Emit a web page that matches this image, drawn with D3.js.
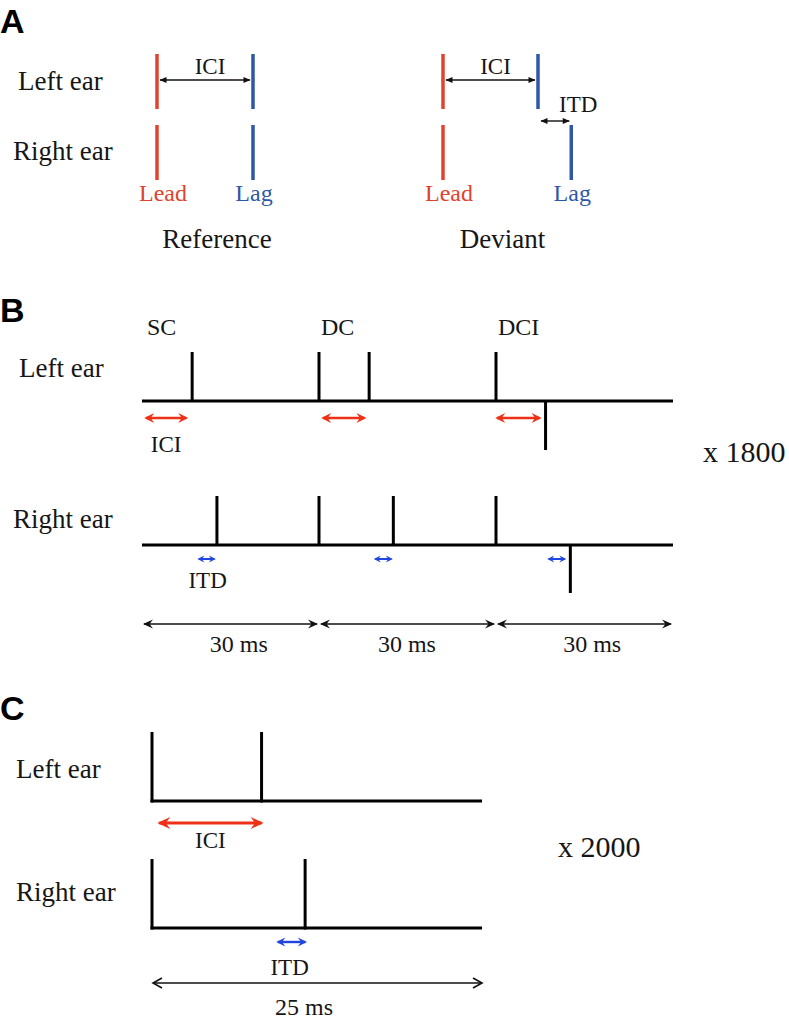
<!DOCTYPE html>
<html><head><meta charset="utf-8">
<script src="https://cdn.jsdelivr.net/npm/d3@7"></script>
<style>
body{margin:0;background:#fff}
text{font-family:"Liberation Serif","Times New Roman",serif;fill:#161616}
.plabel{font-family:"Liberation Sans",Arial,sans-serif;font-weight:bold;fill:#000}
</style>
</head><body>
<svg id="c" width="789" height="1022"></svg>
<script>
// ---------------- DATA ----------------
// Panel A: times in units of ICI
const earLabels = ["Left ear", "Right ear"];
const aRefLead = [0, 0];          // lead time per ear (left, right)
const aRefLag = [1, 1];           // lag time per ear
const aDevLead = [0, 0];
const aDevLag = [1, 1.35];        // right-ear lag delayed by ITD
const aTitles = ["Reference", "Deviant"];

// Panel B: times in ms, polarity +1 up / -1 down
const bSegmentNames = ["SC", "DC", "DCI"];
const bSegmentStarts = [0, 30, 60];
const bSegmentLength = 30;
const bLeftTimes = [8.5, 30, 38.5, 60, 68.4];
const bLeftPolarity = [1, 1, 1, 1, -1];
const bRightTimes = [12.7, 30, 42.6, 60, 72.6];
const bRightPolarity = [1, 1, 1, 1, -1];
const bICIStart = [0.2, 30.2, 59.7];
const bICIEnd = [8.0, 38.2, 67.9];
const bITDStart = [9.3, 39.2, 68.6];
const bITDEnd = [12.6, 42.6, 72.0];
const bSpanLabels = ["30 ms", "30 ms", "30 ms"];
const bSpanLabelPos = [16.4, 44.9, 76.3];
const bRepeat = "x 1800";

// Panel C: times in ms
const cTotal = 25;
const cLeftTimes = [0, 8.3];
const cRightTimes = [0, 11.6];
const cICI = [0.25, 8.6];
const cITD = [9.3, 11.85];
const cSpanLabel = "25 ms";
const cRepeat = "x 2000";

// ---------------- DRAWING ----------------
const svg = d3.select("#c");
const defs = svg.append("defs");
const RED_A = "#e0432d", BLUE_A = "#2e58a6";
const RED = "#ee3017", BLUE = "#2146e0";

function marker(id, color, len, wid, shape, back) {
  const m = defs.append("marker").attr("id", id)
    .attr("markerUnits", "userSpaceOnUse")
    .attr("markerWidth", len + 2).attr("markerHeight", wid + 2)
    .attr("viewBox", `-1 -1 ${len + 2} ${wid + 2}`)
    .attr("refX", len - back).attr("refY", wid / 2)
    .attr("orient", "auto-start-reverse")
    .style("overflow", "visible");
  let d;
  if (shape === "tri") d = `M0,0L${len},${wid / 2}L0,${wid}Z`;
  else if (shape === "concave") d = `M0,0L${len},${wid / 2}L0,${wid}L${len * 0.35},${wid / 2}Z`;
  else d = `M0,0L${len},${wid / 2}L0,${wid}`;
  const p = m.append("path").attr("d", d);
  if (shape === "open") p.attr("fill", "none").attr("stroke", color).attr("stroke-width", 1.6);
  else p.attr("fill", color);
}
marker("mA", "#111", 7, 6, "tri", 0.5);
marker("mRedB", RED, 10, 10, "concave", 2);
marker("mBlueB", BLUE, 7, 7, "concave", 1.5);
marker("mBlack", "#111", 10, 9, "concave", 1);
marker("mRedC", RED, 13, 12, "concave", 2);
marker("mBlueC", BLUE, 9, 9, "concave", 1.5);
marker("mOpen", "#111", 9, 10, "open", 0);

function arrow(g, x1, x2, y, color, w, mk) {
  g.append("line").attr("x1", x1).attr("x2", x2).attr("y1", y).attr("y2", y)
    .attr("stroke", color).attr("stroke-width", w)
    .attr("marker-start", `url(#${mk})`).attr("marker-end", `url(#${mk})`);
}
function txt(g, s, x, y, size, anchor, color) {
  return g.append("text").attr("x", x).attr("y", y).attr("font-size", size)
    .attr("text-anchor", anchor || "start").style("fill", color || "#161616").text(s);
}

// ===== Panel A =====
const gA = svg.append("g");
gA.append("text").attr("class", "plabel").attr("x", 0).attr("y", 33).attr("font-size", 34).text("A");
const aEarTop = [54, 125], aEarBottom = [109, 180];
txt(gA, earLabels[0], 18, 90, 27);
txt(gA, earLabels[1], 13, 160, 27);
const xRef = d3.scaleLinear().domain([0, 1]).range([157, 253]);
const xDev = d3.scaleLinear().domain([0, 1]).range([443, 538]);
function drawA(xs, lead, lag, title) {
  [0, 1].forEach(i => {
    gA.append("line").attr("x1", xs(lead[i])).attr("x2", xs(lead[i]))
      .attr("y1", aEarTop[i]).attr("y2", aEarBottom[i]).attr("stroke", RED_A).attr("stroke-width", 3.5);
    gA.append("line").attr("x1", xs(lag[i])).attr("x2", xs(lag[i]))
      .attr("y1", aEarTop[i]).attr("y2", aEarBottom[i]).attr("stroke", BLUE_A).attr("stroke-width", 3.5);
  });
  arrow(gA, xs(lead[0]) + 3, xs(lag[0]) - 3, 80, "#111", 1.4, "mA");
  txt(gA, "ICI", (xs(lead[0]) + xs(lag[0])) / 2 + 5, 74, 23, "middle");
  txt(gA, "Lead", xs(lead[1]) + 6, 201, 24, "middle", RED_A);
  txt(gA, "Lag", xs(d3.max(lag)) + 1, 201, 24, "middle", BLUE_A);
  txt(gA, title, (xs(0) + xs(1)) / 2 + 12, 248, 27, "middle");
}
drawA(xRef, aRefLead, aRefLag, aTitles[0]);
drawA(xDev, aDevLead, aDevLag, aTitles[1]);
arrow(gA, xDev(aDevLag[0]) + 3, xDev(aDevLag[1]) - 2, 121, "#111", 1.4, "mA");
txt(gA, "ITD", xDev(aDevLag[0]) + 21, 112, 23, "start");

// ===== Panel B =====
const gB = svg.append("g");
gB.append("text").attr("class", "plabel").attr("x", 0).attr("y", 322).attr("font-size", 34).text("B");
const xB = d3.scaleLinear().domain([0, 90]).range([142, 673]);
const yBL = d3.scaleLinear().domain([-1, 0, 1]).range([450, 401, 352]);
const yBR = d3.scaleLinear().domain([-1, 0, 1]).range([593, 545, 496]);
txt(gB, earLabels[0], 19, 377, 27);
txt(gB, earLabels[1], 13, 528, 27);
bSegmentNames.forEach((n, i) => txt(gB, n, xB(bSegmentStarts[i]) + (i === 0 ? 5 : 2), 335, 24));
function train(times, pol, y) {
  gB.append("line").attr("x1", xB(0)).attr("x2", xB(90)).attr("y1", y(0)).attr("y2", y(0))
    .attr("stroke", "#000").attr("stroke-width", 3);
  gB.selectAll(null).data(times).enter().append("line")
    .attr("x1", d => xB(d)).attr("x2", d => xB(d))
    .attr("y1", y(0)).attr("y2", (d, i) => y(pol[i]))
    .attr("stroke", "#000").attr("stroke-width", 3);
}
train(bLeftTimes, bLeftPolarity, yBL);
train(bRightTimes, bRightPolarity, yBR);
bICIStart.forEach((s, i) => arrow(gB, xB(s) + 3, xB(bICIEnd[i]) - 3, 418, RED, 2.6, "mRedB"));
bITDStart.forEach((s, i) => arrow(gB, xB(s) + 2, xB(bITDEnd[i]) - 2, 559, BLUE, 2, "mBlueB"));
txt(gB, "ICI", (xB(bICIStart[0]) + xB(bICIEnd[0])) / 2, 452, 23, "middle");
txt(gB, "ITD", (xB(bITDStart[0]) + xB(bITDEnd[0])) / 2 + 1, 588, 23, "middle");
bSegmentStarts.forEach((s, i) => {
  arrow(gB, xB(s) + 2, xB(s + bSegmentLength) - 2, 624, "#111", 1.6, "mBlack");
  txt(gB, bSpanLabels[i], xB(bSpanLabelPos[i]), 652, 24, "middle");
});
txt(gB, bRepeat, 703, 462, 30);

// ===== Panel C =====
const gC = svg.append("g");
gC.append("text").attr("class", "plabel").attr("x", 0).attr("y", 720).attr("font-size", 34).text("C");
const xC = d3.scaleLinear().domain([0, cTotal]).range([152, 482]);
const yCL = d3.scaleLinear().domain([0, 1]).range([801, 732]);
const yCR = d3.scaleLinear().domain([0, 1]).range([928, 859]);
txt(gC, earLabels[0], 16, 778, 27);
txt(gC, earLabels[1], 16, 901, 27);
function trainC(times, y) {
  gC.append("line").attr("x1", xC(0) - 1.5).attr("x2", xC(cTotal)).attr("y1", y(0)).attr("y2", y(0))
    .attr("stroke", "#000").attr("stroke-width", 3);
  gC.selectAll(null).data(times).enter().append("line")
    .attr("x1", d => xC(d)).attr("x2", d => xC(d))
    .attr("y1", y(0) + 1.5).attr("y2", y(1))
    .attr("stroke", "#000").attr("stroke-width", 3);
}
trainC(cLeftTimes, yCL);
trainC(cRightTimes, yCR);
arrow(gC, xC(cICI[0]) + 4, xC(cICI[1]) - 4, 823, RED, 3, "mRedC");
txt(gC, "ICI", (xC(cICI[0]) + xC(cICI[1])) / 2, 848, 23, "middle");
arrow(gC, xC(cITD[0]) + 3, xC(cITD[1]) - 3, 942, BLUE, 2.4, "mBlueC");
txt(gC, "ITD", (xC(cITD[0]) + xC(cITD[1])) / 2 - 2, 975, 23, "middle");
arrow(gC, xC(0) + 1, xC(cTotal), 983, "#111", 1.6, "mOpen");
txt(gC, cSpanLabel, 304, 1015, 24, "middle");
txt(gC, cRepeat, 558, 857, 30);
</script>
</body></html>
